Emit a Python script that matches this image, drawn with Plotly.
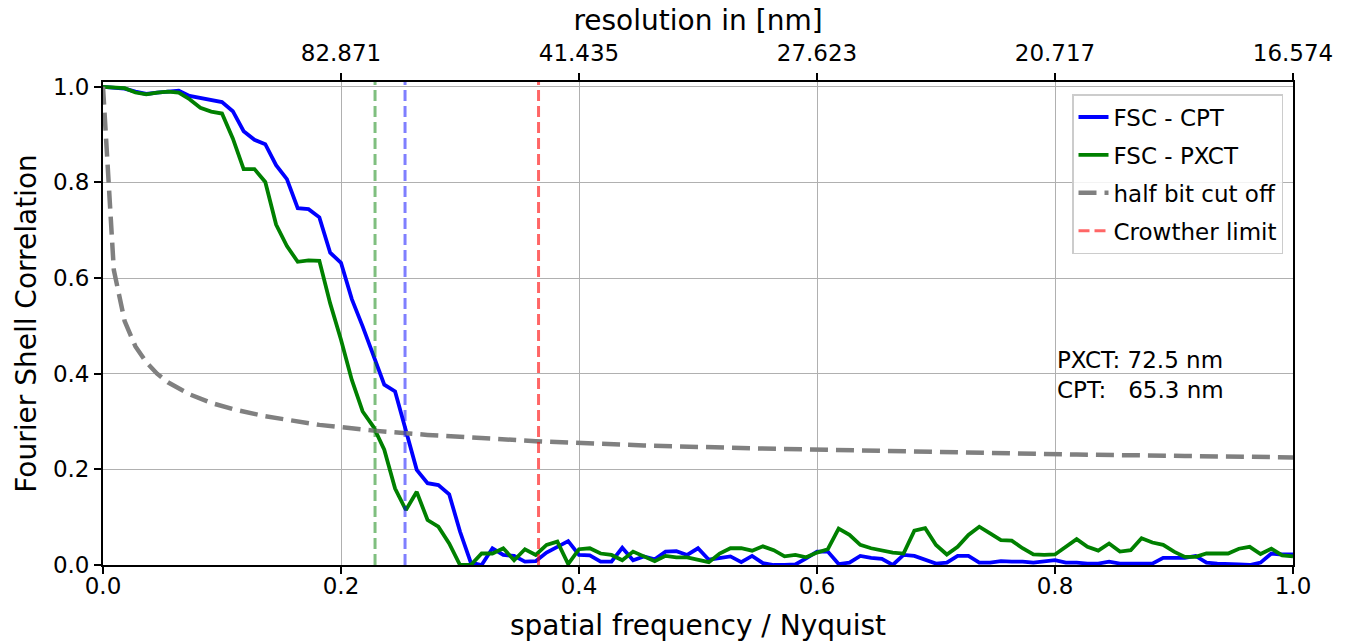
import plotly.graph_objects as go

# ---------------- data ----------------
n_shells = 110
shell = list(range(n_shells + 1))

fsc_cpt = [
    1.000, 0.998, 0.996, 0.990, 0.985, 0.988, 0.991, 0.992, 0.981, 0.976,
    0.972, 0.968, 0.949, 0.907, 0.889, 0.880, 0.836, 0.807, 0.746, 0.744,
    0.727, 0.653, 0.632, 0.556, 0.499, 0.440, 0.377, 0.363, 0.278, 0.199,
    0.171, 0.167, 0.148, 0.070, 0.005, 0.000, 0.035, 0.021, 0.019, 0.007,
    0.008, 0.026, 0.038, 0.050, 0.021, 0.020, 0.007, 0.007, 0.036, 0.010,
    0.018, 0.012, 0.028, 0.029, 0.021, 0.035, 0.011, 0.015, 0.018, 0.006,
    0.019, 0.004, 0.000, 0.000, 0.001, 0.014, 0.028, 0.028, 0.002, 0.005,
    0.019, 0.015, 0.013, 0.000, 0.021, 0.019, 0.010, 0.003, 0.005, 0.019,
    0.019, 0.005, 0.005, 0.008, 0.007, 0.007, 0.005, 0.008, 0.010, 0.005,
    0.005, 0.003, 0.003, 0.007, 0.003, 0.003, 0.003, 0.003, 0.015, 0.015,
    0.015, 0.019, 0.005, 0.003, 0.003, 0.001, 0.000, 0.005, 0.024, 0.022,
    0.022,
]

fsc_pxct = [
    1.000, 0.999, 0.997, 0.988, 0.984, 0.988, 0.990, 0.988, 0.974, 0.956,
    0.948, 0.944, 0.892, 0.828, 0.828, 0.801, 0.712, 0.667, 0.634, 0.637,
    0.636, 0.547, 0.471, 0.387, 0.321, 0.289, 0.241, 0.160, 0.115, 0.153,
    0.094, 0.080, 0.045, 0.000, 0.000, 0.024, 0.024, 0.035, 0.010, 0.033,
    0.021, 0.042, 0.049, 0.002, 0.033, 0.035, 0.024, 0.021, 0.010, 0.028,
    0.019, 0.008, 0.019, 0.016, 0.016, 0.012, 0.006, 0.024, 0.035, 0.035,
    0.030, 0.039, 0.031, 0.018, 0.021, 0.016, 0.026, 0.033, 0.076, 0.063,
    0.042, 0.035, 0.030, 0.026, 0.024, 0.072, 0.077, 0.042, 0.022, 0.038,
    0.063, 0.080, 0.066, 0.052, 0.051, 0.035, 0.022, 0.021, 0.022, 0.038,
    0.054, 0.038, 0.030, 0.045, 0.028, 0.031, 0.056, 0.047, 0.042, 0.028,
    0.017, 0.017, 0.024, 0.024, 0.024, 0.034, 0.038, 0.023, 0.034, 0.020,
    0.018,
]

halfbit_shell = [0, 1, 2, 3, 4, 5, 6, 8, 10, 12, 15, 20, 25, 30, 40, 50,
                 60, 70, 80, 90, 100, 110]
halfbit = [1.000, 0.617, 0.510, 0.457, 0.424, 0.400, 0.382, 0.357, 0.339,
           0.326, 0.311, 0.293, 0.281, 0.272, 0.259, 0.250, 0.244, 0.239,
           0.234, 0.231, 0.228, 0.225]

nyquist_res_nm = 16.574
res_pxct_nm = 72.5
res_cpt_nm = 65.3
crowther_freq = 0.366

top_tick_freq = [0.2, 0.4, 0.6, 0.8, 1.0]
top_tick_labels = ["82.871", "41.435", "27.623", "20.717", "16.574"]

# ---------------- derived ----------------
freq = [s / n_shells for s in shell]
halfbit_freq = [s / n_shells for s in halfbit_shell]
pxct_freq = nyquist_res_nm / res_pxct_nm
cpt_freq = nyquist_res_nm / res_cpt_nm
y_top = 1.01

FONT = "DejaVu Sans"
TICK = 23
TITLE = 28
VDASH = "11px,5px"

fig = go.Figure()

fig.add_trace(go.Scatter(x=freq, y=fsc_cpt, mode="lines", name="FSC - CPT",
                         line=dict(color="#0000ff", width=3.8),
                         legendgroup="a"))
fig.add_trace(go.Scatter(x=freq, y=fsc_pxct, mode="lines", name="FSC - PXCT",
                         line=dict(color="#008000", width=3.8),
                         legendgroup="b"))
fig.add_trace(go.Scatter(x=halfbit_freq, y=halfbit, mode="lines",
                         name="half bit cut off",
                         line=dict(color="#808080", width=4.5, dash="18px,8px"),
                         legendgroup="c"))
fig.add_trace(go.Scatter(x=[crowther_freq, crowther_freq], y=[0, y_top],
                         mode="lines", name="Crowther limit",
                         line=dict(color="rgba(255,0,0,0.6)", width=3,
                                   dash=VDASH),
                         legendgroup="d"))
fig.add_trace(go.Scatter(x=[pxct_freq, pxct_freq], y=[0, y_top], mode="lines",
                         showlegend=False,
                         line=dict(color="rgba(0,128,0,0.5)", width=3,
                                   dash=VDASH)))
fig.add_trace(go.Scatter(x=[cpt_freq, cpt_freq], y=[0, y_top], mode="lines",
                         showlegend=False,
                         line=dict(color="rgba(0,0,255,0.5)", width=3,
                                   dash=VDASH)))
# invisible trace to activate the top axis
fig.add_trace(go.Scatter(x=[0, 1], y=[0, 0], xaxis="x2", mode="lines",
                         line=dict(color="rgba(0,0,0,0)"), showlegend=False,
                         hoverinfo="skip"))

fig.add_annotation(x=0.8, y=0.398, xref="x", yref="y",
                   text="PXCT: 72.5 nm<br>CPT:\u00a0\u00a0\u00a065.3 nm",
                   showarrow=False, xanchor="left", yanchor="middle",
                   align="left", font=dict(family=FONT, size=TICK, color="black"))

axis_common = dict(showline=True, linecolor="black", linewidth=1.8,
                   ticks="outside", ticklen=7, tickwidth=1.8, tickcolor="black",
                   tickfont=dict(family=FONT, size=TICK, color="black"),
                   zeroline=False, automargin=False)

fig.update_layout(
    width=1350, height=642,
    margin=dict(l=103, r=57, t=82, b=77),
    paper_bgcolor="white", plot_bgcolor="white",
    font=dict(family=FONT, color="black"),
    xaxis=dict(range=[0, 1], tickvals=[0, 0.2, 0.4, 0.6, 0.8, 1.0],
               ticktext=["0.0", "0.2", "0.4", "0.6", "0.8", "1.0"],
               mirror=True, showgrid=True, gridcolor="#b0b0b0", gridwidth=1.3,
               ticklabelstandoff=-8,
               title=dict(text="spatial frequency / Nyquist",
                          font=dict(family=FONT, size=TITLE, color="black"),
                          standoff=22),
               **axis_common),
    xaxis2=dict(range=[0, 1], overlaying="x", side="top", anchor="y",
                tickvals=top_tick_freq, ticktext=top_tick_labels,
                showgrid=False, ticklabelstandoff=3,
                title=dict(text="resolution in [nm]",
                           font=dict(family=FONT, size=TITLE, color="black"),
                           standoff=1),
                **axis_common),
    yaxis=dict(range=[0, y_top], tickvals=[0, 0.2, 0.4, 0.6, 0.8, 1.0],
               ticktext=["0.0", "0.2", "0.4", "0.6", "0.8", "1.0"],
               mirror=True, showgrid=True, gridcolor="#b0b0b0", gridwidth=1.3,
               title=dict(text="Fourier Shell Correlation",
                          font=dict(family=FONT, size=TITLE, color="black"),
                          standoff=8),
               **axis_common),
    legend=dict(x=0.9916, xanchor="right", y=0.975, yanchor="top",
                bgcolor="rgba(255,255,255,0.85)", bordercolor="#cccccc",
                borderwidth=1.5, font=dict(family=FONT, size=TICK, color="black"),
                tracegroupgap=5),
    showlegend=True,
)

fig.write_html("out.html")
